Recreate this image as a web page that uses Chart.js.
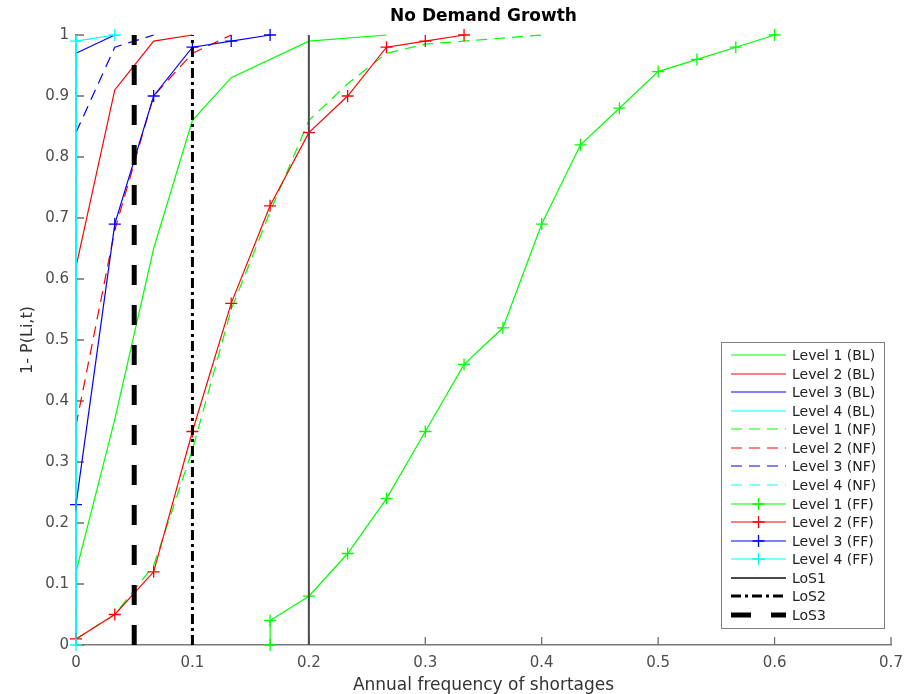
<!DOCTYPE html>
<html>
<head>
<meta charset="utf-8">
<title>No Demand Growth</title>
<script src="https://cdn.jsdelivr.net/npm/chart.js@4.4.1/dist/chart.umd.min.js"></script>
<style>
  html, body { margin: 0; padding: 0; background: #fff; }
  #wrap { width: 908px; height: 694px; }
</style>
</head>
<body>
<div id="wrap"><canvas id="chart"></canvas></div>
<script>
// ---- axis ticks ----
const xTicks = [0, 0.1, 0.2, 0.3, 0.4, 0.5, 0.6, 0.7];
const yTicks = [0, 0.1, 0.2, 0.3, 0.4, 0.5, 0.6, 0.7, 0.8, 0.9, 1];

// ---- baseline (BL) ----
const bl1X = [0, 0.0333, 0.0667, 0.1, 0.1333, 0.2, 0.2667];
const bl1Y = [0.12, 0.37, 0.65, 0.86, 0.93, 0.99, 1.0];
const bl2X = [0, 0.0333, 0.0667, 0.1];
const bl2Y = [0.62, 0.91, 0.99, 1.0];
const bl3X = [0, 0.0333];
const bl3Y = [0.97, 1.0];
const bl4X = [0, 0];
const bl4Y = [0, 1.0];

// ---- near future (NF) ----
const nf1X = [0, 0.0333, 0.0667, 0.1, 0.1333, 0.1667, 0.2, 0.2333, 0.2667, 0.3, 0.3333, 0.4];
const nf1Y = [0.01, 0.05, 0.13, 0.32, 0.55, 0.71, 0.86, 0.92, 0.97, 0.985, 0.99, 1.0];
const nf2X = [0, 0.0333, 0.0667, 0.1, 0.1333];
const nf2Y = [0.36, 0.68, 0.90, 0.97, 1.0];
const nf3X = [0, 0.0333, 0.0667];
const nf3Y = [0.84, 0.98, 1.0];
const nf4X = [0, 0];
const nf4Y = [0, 1.0];

// ---- far future (FF) ----
const ff1X = [0.1667, 0.1667, 0.2, 0.2333, 0.2667, 0.3, 0.3333, 0.3667, 0.4, 0.4333, 0.4667, 0.5, 0.5333, 0.5667, 0.6];
const ff1Y = [0, 0.04, 0.08, 0.15, 0.24, 0.35, 0.46, 0.52, 0.69, 0.82, 0.88, 0.94, 0.96, 0.98, 1.0];
const ff2X = [0, 0.0333, 0.0667, 0.1, 0.1333, 0.1667, 0.2, 0.2333, 0.2667, 0.3, 0.3333];
const ff2Y = [0.01, 0.05, 0.12, 0.35, 0.56, 0.72, 0.84, 0.90, 0.98, 0.99, 1.0];
const ff3X = [0, 0.0333, 0.0667, 0.1, 0.1333, 0.1667];
const ff3Y = [0.23, 0.69, 0.90, 0.98, 0.99, 1.0];
const ff4X = [0, 0, 0.0333];
const ff4Y = [0, 0.99, 1.0];

// ---- levels of service (vertical limits) ----
const los1X = [0.2, 0.2];
const los2X = [0.1, 0.1];
const los3X = [0.05, 0.05];
const losY = [0, 1];

const GREEN = '#00ff00', RED = '#ff0000', BLUE = '#0000ff', CYAN = '#00ffff';
const FONT = "'DejaVu Sans', sans-serif";

function pts(xs, ys) {
  return xs.map((x, i) => ({ x: x, y: ys[i] }));
}

function series(label, xs, ys, color, kind) {
  return {
    label: label,
    data: pts(xs, ys),
    borderColor: color,
    backgroundColor: color,
    borderWidth: 1.2,
    borderDash: kind === 'NF' ? [11, 7] : [],
    pointStyle: 'cross',
    pointRadius: kind === 'FF' ? 6 : 0,
    pointBorderWidth: 1.3,
    pointBorderColor: color,
    showLine: true,
    tension: 0,
    clip: false
  };
}

function limit(label, xs, color, width, dash) {
  return {
    label: label,
    data: pts(xs, losY),
    borderColor: color,
    borderWidth: width,
    borderDash: dash,
    pointRadius: 0,
    showLine: true,
    clip: false
  };
}

const datasets = [
  series('Level 1 (BL)', bl1X, bl1Y, GREEN, 'BL'),
  series('Level 2 (BL)', bl2X, bl2Y, RED, 'BL'),
  series('Level 3 (BL)', bl3X, bl3Y, BLUE, 'BL'),
  series('Level 4 (BL)', bl4X, bl4Y, CYAN, 'BL'),
  series('Level 1 (NF)', nf1X, nf1Y, GREEN, 'NF'),
  series('Level 2 (NF)', nf2X, nf2Y, RED, 'NF'),
  series('Level 3 (NF)', nf3X, nf3Y, BLUE, 'NF'),
  series('Level 4 (NF)', nf4X, nf4Y, CYAN, 'NF'),
  series('Level 1 (FF)', ff1X, ff1Y, GREEN, 'FF'),
  series('Level 2 (FF)', ff2X, ff2Y, RED, 'FF'),
  series('Level 3 (FF)', ff3X, ff3Y, BLUE, 'FF'),
  series('Level 4 (FF)', ff4X, ff4Y, CYAN, 'FF'),
  limit('LoS1', los1X, '#4a4a4a', 2, []),
  limit('LoS2', los2X, '#000000', 3, [10, 4, 3, 4]),
  limit('LoS3', los3X, '#000000', 5, [20, 20])
];
// later series sit on top, like the original plot
datasets.forEach((d, i) => { d.order = datasets.length - i; });

// inward tick marks along both axes
const innerTicks = {
  id: 'innerTicks',
  beforeDatasetsDraw(chart) {
    const { ctx, chartArea, scales } = chart;
    ctx.save();
    ctx.strokeStyle = '#6e6e6e';
    ctx.lineWidth = 1.3;
    ctx.beginPath();
    xTicks.forEach(v => {
      const px = scales.x.getPixelForValue(v);
      ctx.moveTo(px, chartArea.bottom);
      ctx.lineTo(px, chartArea.bottom - 8);
    });
    yTicks.forEach(v => {
      const py = scales.y.getPixelForValue(v);
      ctx.moveTo(chartArea.left, py);
      ctx.lineTo(chartArea.left + 8, py);
    });
    ctx.stroke();
    ctx.restore();
  }
};

// title over the plot area
const plotTitle = {
  id: 'plotTitle',
  afterDraw(chart) {
    const { ctx, chartArea } = chart;
    ctx.save();
    ctx.font = 'bold 17px ' + FONT;
    ctx.fillStyle = '#000';
    ctx.textAlign = 'center';
    ctx.textBaseline = 'middle';
    ctx.fillText('No Demand Growth', (chartArea.left + chartArea.right) / 2, 17);
    ctx.restore();
  }
};

// boxed legend in the lower right, line samples with centre marker
const boxLegend = {
  id: 'boxLegend',
  afterDraw(chart) {
    const { ctx } = chart;
    const items = chart.data.datasets;
    const bx = 721, by = 342, bw = 163, bh = 286;
    const rowH = 18.57, firstY = 355;
    ctx.save();
    ctx.fillStyle = '#fff';
    ctx.fillRect(bx, by, bw, bh);
    ctx.strokeStyle = '#7f7f7f';
    ctx.lineWidth = 1;
    ctx.strokeRect(bx + 0.5, by + 0.5, bw, bh);
    ctx.font = '14px ' + FONT;
    ctx.textBaseline = 'middle';
    ctx.textAlign = 'left';
    items.forEach((d, i) => {
      const y = Math.round(firstY + i * rowH);
      ctx.strokeStyle = d.borderColor;
      ctx.lineWidth = d.borderWidth;
      ctx.setLineDash(d.borderDash || []);
      ctx.beginPath();
      ctx.moveTo(731, y);
      ctx.lineTo(786, y);
      ctx.stroke();
      ctx.setLineDash([]);
      if (d.pointRadius > 0) {
        ctx.lineWidth = d.pointBorderWidth;
        ctx.beginPath();
        ctx.moveTo(758.5 - 6, y);
        ctx.lineTo(758.5 + 6, y);
        ctx.moveTo(758.5, y - 6);
        ctx.lineTo(758.5, y + 6);
        ctx.stroke();
      }
      ctx.fillStyle = '#222';
      ctx.fillText(d.label, 792, y + 1);
    });
    ctx.restore();
  }
};

const fmtTick = v => String(Math.round(v * 10) / 10);

new Chart(document.getElementById('chart'), {
  type: 'scatter',
  data: { datasets: datasets },
  options: {
    responsive: true,
    maintainAspectRatio: false,
    animation: false,
    layout: { padding: { top: 35, right: 17, left: 0, bottom: 0 } },
    plugins: {
      legend: { display: false },
      tooltip: { enabled: false }
    },
    scales: {
      x: {
        type: 'linear',
        min: 0,
        max: 0.7,
        afterBuildTicks: s => { s.ticks = xTicks.map(v => ({ value: v })); },
        afterFit: s => { s.height = 49; s.paddingLeft = 0; s.paddingRight = 0; },
        grid: { display: false, drawTicks: false },
        border: { display: true, color: '#7a7a7a', width: 1.6 },
        ticks: { color: '#4d4d4d', font: { family: FONT, size: 15 }, padding: 9, maxRotation: 0, callback: fmtTick },
        title: {
          display: true,
          text: 'Annual frequency of shortages',
          color: '#333',
          font: { family: FONT, size: 17 },
          padding: { top: 0, bottom: -2 }
        }
      },
      y: {
        type: 'linear',
        min: 0,
        max: 1,
        afterBuildTicks: s => { s.ticks = yTicks.map(v => ({ value: v })); },
        afterFit: s => { s.width = 76; },
        grid: { display: false, drawTicks: false },
        border: { display: true, color: '#7a7a7a', width: 1.6 },
        ticks: { color: '#4d4d4d', font: { family: FONT, size: 15 }, padding: 7, callback: fmtTick },
        title: {
          display: true,
          text: '1- P(Li,t)',
          color: '#333',
          font: { family: FONT, size: 16 },
          padding: { top: 18, bottom: 0 }
        }
      }
    }
  },
  plugins: [innerTicks, plotTitle, boxLegend]
});
</script>
</body>
</html>
